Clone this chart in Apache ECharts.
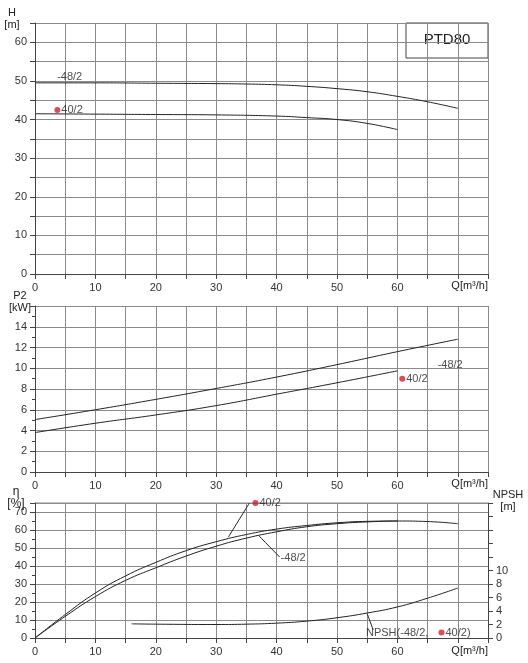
<!DOCTYPE html>
<html><head><meta charset="utf-8">
<script src="https://cdn.jsdelivr.net/npm/echarts@6/dist/echarts.min.js"></script>
<style>html,body{margin:0;background:#fff}#c{width:528px;height:663px}</style>
</head><body><div id="c"></div>
<script>
const hHigh = [[0,49.5],[10,49.5],[20,49.4],[30,49.3],[35,49.2],[40,49],[45,48.6],[50,48],[55,47.2],[60,46],[65,44.6],[70,42.9]];
const hLow = [[0,41.5],[10,41.4],[20,41.3],[30,41.2],[40,40.9],[45,40.5],[50,40.0],[55,39],[60,37.4]];
const pHigh = [[0,5.05],[10,6.0],[20,7.0],[30,8.05],[40,9.15],[50,10.35],[60,11.6],[70,12.8]];
const pLow = [[0,3.8],[10,4.7],[20,5.5],[30,6.4],[40,7.5],[50,8.6],[60,9.75]];
const effUpper = [[0,0],[5,13],[10,25],[15,34.5],[20,42],[25,48.5],[30,53.5],[35,57.5],[40,60.5],[45,62.5],[50,64],[55,64.8],[60,65],[65,64.7],[70,63.5]];
const effLower = [[0,0],[5,12],[10,23],[15,32],[20,39],[25,45.5],[30,51],[35,55.5],[40,59],[45,61.8],[50,63.5],[55,64.5],[60,65]];
const npsh = [[16,2.1],[20,2.05],[30,2.0],[35,2.05],[40,2.2],[45,2.5],[50,3.0],[55,3.7],[60,4.6],[65,5.9],[70,7.4]];

const chart = echarts.init(document.getElementById('c'));
const grids = [{left:35,right:40,top:23,height:251},{left:35,right:40,top:306,height:166},{left:35,right:40,top:503,height:135}];
const gl = {show:true,lineStyle:{color:'#8a8a8a',width:1}};
const lab = {color:'#333',fontSize:11,fontFamily:'Arial, Liberation Sans'};
function xa(i){return {type:'value',gridIndex:i,min:0,max:75,interval:5,
  axisLine:{lineStyle:{color:'#444'}},axisTick:{show:true,lineStyle:{color:'#444'}},
  axisLabel:Object.assign({},lab,{formatter:v=>(v%10===0&&v<=60)?v:''}),splitLine:gl};}
const lineS = (xi,yi,data)=>({type:'line',xAxisIndex:xi,yAxisIndex:yi,data,smooth:true,symbol:'none',lineStyle:{color:'#222',width:1},silent:true});
const txt = (xi,yi,pt,text,dot,pos)=>({type:'scatter',xAxisIndex:xi,yAxisIndex:yi,data:[pt],symbolSize:dot?6:0,itemStyle:{color:'#d0202a'},
  label:{show:true,formatter:text,position:pos||'right',distance:1,color:'#222',fontSize:11,fontFamily:'Arial, Liberation Sans'}});
const minor = {show:true,splitNumber:2,length:3,lineStyle:{color:'#444'}};
chart.setOption({
  animation:false,
  grid:grids,
  xAxis:[xa(0),xa(1),xa(2)],
  yAxis:[
    {type:'value',gridIndex:0,min:0,max:65,interval:5,axisLine:{show:true,lineStyle:{color:'#444'}},axisTick:{show:true},axisLabel:Object.assign({},lab,{formatter:v=>(v%10===0)?v:''}),splitLine:gl},
    {type:'value',gridIndex:1,min:0,max:16,interval:2,axisLine:{show:true,lineStyle:{color:'#444'}},axisTick:{show:true},minorTick:minor,axisLabel:Object.assign({},lab,{formatter:v=>(v<=14)?v:''}),splitLine:gl},
    {type:'value',gridIndex:2,min:0,max:75,interval:10,axisLine:{show:true,lineStyle:{color:'#444'}},axisTick:{show:true},minorTick:minor,axisLabel:Object.assign({},lab,{formatter:v=>(v<=70)?v:''}),splitLine:gl},
    {type:'value',gridIndex:2,position:'right',min:0,max:20,interval:2,axisLine:{show:true,lineStyle:{color:'#444'}},axisTick:{show:true},axisLabel:Object.assign({},lab,{formatter:v=>v<=10?v:''}),splitLine:{show:false}}
  ],
  graphic:[
    {type:'rect',shape:{x:406,y:23,width:82,height:35},style:{fill:'#fff',stroke:'#444',lineWidth:1}},
    {type:'text',x:447,y:40,style:{text:'PTD80',fill:'#222',font:'15px Arial',align:'center',verticalAlign:'middle'}},
    {type:'line',shape:{x1:35,y1:503,x2:488,y2:503},style:{stroke:'#8a8a8a',lineWidth:1}},
    {type:'text',x:12,y:7,style:{text:'H\n[m]',fill:'#222',font:'11px Arial',align:'center',lineHeight:12}},
    {type:'text',x:20,y:290,style:{text:'P2\n[kW]',fill:'#222',font:'11px Arial',align:'center',lineHeight:12}},
    {type:'text',x:16,y:486,style:{text:'η\n[%]',fill:'#222',font:'12px Arial',align:'center',lineHeight:12}},
    {type:'text',x:508,y:489,style:{text:'NPSH\n[m]',fill:'#222',font:'11px Arial',align:'center',lineHeight:12}},
    {type:'text',x:488,y:280,style:{text:'Q[m³/h]',fill:'#222',font:'11px Arial',align:'right'}},
    {type:'text',x:488,y:478,style:{text:'Q[m³/h]',fill:'#222',font:'11px Arial',align:'right'}},
    {type:'text',x:488,y:645,style:{text:'Q[m³/h]',fill:'#222',font:'11px Arial',align:'right'}}
  ],
  series:[
    lineS(0,0,hHigh), lineS(0,0,hLow),
    txt(0,0,[3.5,51],'-48/2',false),
    txt(0,0,[3.7,42.5],'40/2',true),
    lineS(1,1,pHigh), lineS(1,1,pLow),
    txt(1,1,[66.5,10.3],'-48/2',false),
    txt(1,1,[60.8,9],'40/2',true),
    lineS(2,2,effUpper), lineS(2,2,effLower), lineS(2,3,npsh),
    lineS(2,2,[[32,56],[35.5,75]]),
    lineS(2,2,[[37,57],[40.5,45]]),
    lineS(2,3,[[55,3.6],[56,1.2]]),
    txt(2,2,[36.5,75],'40/2',true),
    txt(2,2,[40.5,44.5],'-48/2',false),
    {type:'scatter',xAxisIndex:2,yAxisIndex:3,data:[[54.8,0.8]],symbolSize:0,label:{show:true,position:'right',distance:0,formatter:'NPSH(-48/2,',color:'#222',fontSize:11,fontFamily:'Arial'}},
    txt(2,3,[67.3,0.8],'40/2)',true)
  ]
});
</script></body></html>
